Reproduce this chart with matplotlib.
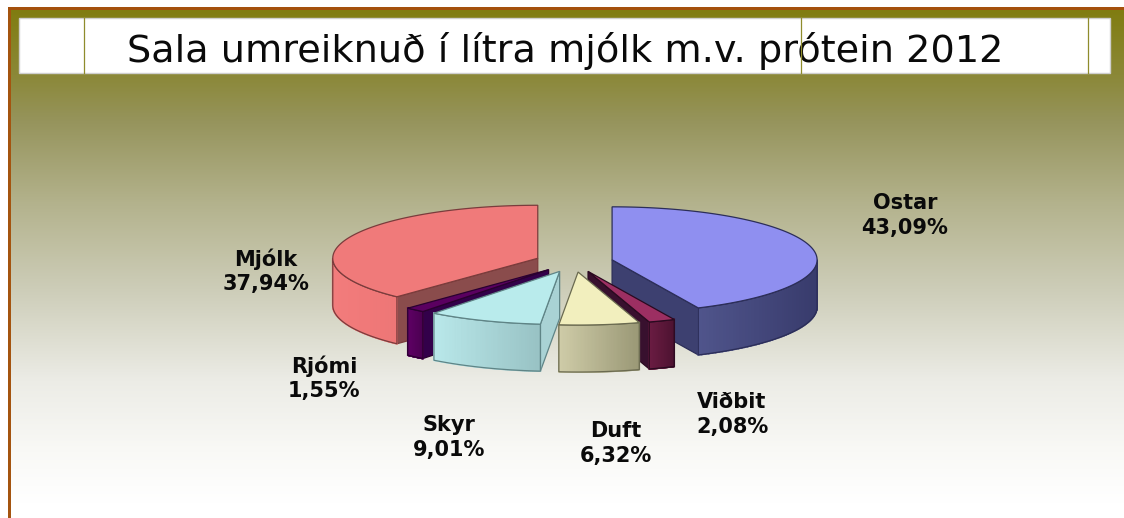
import numpy as np
import matplotlib
matplotlib.use("Agg")
import matplotlib.pyplot as plt
from matplotlib.colors import LinearSegmentedColormap, to_rgb

W, H = 1124, 518

TITLE = "Sala umreiknuð í lítra mjólk m.v. prótein 2012"

# clockwise from 12 o'clock
categories = ["Ostar", "Viðbit", "Duft", "Skyr", "Rjómi", "Mjólk"]
values = [43.09, 2.08, 6.32, 9.01, 1.55, 37.94]

top_colors = ["#8f8ff0", "#9c2f62", "#f2efbe", "#b9ebec", "#5a0060", "#f07a7a"]
cut_colors = ["#3d4070", "#38102e", "#b0ae8c", "#a9d2d4", "#33004a", "#8a4c4c"]
rim_left = ["#50558c", "#6a1c42", "#cfcca8", "#b9e8ea", "#5e0064", "#f27c7c"]
rim_right = ["#383b6c", "#4c1230", "#9a9876", "#98c2c4", "#4a0050", "#ee7676"]
edge_colors = ["#2c2e58", "#2a0a20", "#6a6a50", "#5f8486", "#2a0030", "#7a3c3c"]

label_pos = [(905, 216), (732, 415), (616, 444), (449, 438), (324, 379), (266, 272)]

CX, CY = 574, 262
RX, RY = 205, 53
EXPLODE = 39
DEPTH = 47


def pt(t, ox, oy):
    return ox + RX * np.sin(t), oy - RY * np.cos(t)


def draw_slice(ax, i, start, end):
    mid = (start + end) / 2
    ox = CX + EXPLODE * np.sin(mid)
    oy = CY - EXPLODE * np.cos(mid) * RY / RX
    edge = edge_colors[i]

    # flat cut faces, only the ones turned to the viewer
    mx, my = pt(mid, ox, oy)
    for t in (start, end):
        px, py = pt(t, ox, oy)
        nx, ny = -(py - oy), px - ox
        if nx * (mx - ox) + ny * (my - oy) > 0:
            ny = -ny
        if ny > 0:
            ax.fill([ox, px, px, ox], [oy, py, py + DEPTH, oy + DEPTH],
                    facecolor=cut_colors[i], edgecolor=edge, lw=0.9)

    # outer rim, in thin strips for the shading
    lo, hi = max(start, np.pi / 2), min(end, 3 * np.pi / 2)
    if hi > lo:
        ts = np.linspace(lo, hi, 60)
        xs, ys = pt(ts, ox, oy)
        c_l = np.array(to_rgb(rim_left[i]))
        c_r = np.array(to_rgb(rim_right[i]))
        for k in range(len(ts) - 1):
            f = (xs[k] - xs.min()) / (xs.max() - xs.min())
            col = c_l + (c_r - c_l) * f
            ax.fill([xs[k], xs[k + 1], xs[k + 1], xs[k]],
                    [ys[k], ys[k + 1], ys[k + 1] + DEPTH, ys[k] + DEPTH],
                    facecolor=col, edgecolor=col, lw=1.2)
        ax.fill(np.r_[xs, xs[::-1]], np.r_[ys, ys[::-1] + DEPTH],
                facecolor="none", edgecolor=edge, lw=0.9)

    # top face
    ts = np.linspace(start, end, 120)
    xs, ys = pt(ts, ox, oy)
    ax.fill(np.r_[ox, xs], np.r_[oy, ys], facecolor=top_colors[i], edgecolor=edge, lw=0.9)


fig = plt.figure(figsize=(W / 100, H / 100), dpi=100)
ax = fig.add_axes([0, 0, 1, 1])
ax.axis("off")

# background
grad = LinearSegmentedColormap.from_list("bg", [
    (0.0, "#807c10"), (0.13, "#8b8838"), (0.22, "#96945c"), (0.38, "#b3b28c"),
    (0.55, "#cdcdb8"), (0.73, "#ecece6"), (0.87, "#f9f9f6"), (0.97, "#ffffff"), (1.0, "#ffffff"),
], N=1024)
g = np.linspace(0, 1, 1024).reshape(-1, 1)
ax.imshow(g, cmap=grad, extent=(11, W, H, 9), aspect="auto", zorder=0)
ax.set_xlim(0, W)
ax.set_ylim(H, 0)
ax.fill([8, 11, 11, 8], [7, 7, H, H], color="#a4540f", lw=0, zorder=1)
ax.fill([8, W, W, 8], [7, 7, 9.5, 9.5], color="#a4500c", lw=0, zorder=1)

# title box
ax.fill([19, 1110, 1110, 19], [18, 18, 73, 73], facecolor="white", edgecolor="#cfcfcf", lw=1, zorder=2)
for lx in (84, 801, 1088):
    ax.plot([lx, lx], [18, 73], color="#8f8c2c", lw=0.9, zorder=4)
ax.text(565, 62, TITLE, fontsize=27.5, family="DejaVu Sans", ha="center", va="baseline",
        color="#0a0a0a", zorder=3)

# pie: back slices first
shares = np.array(values) / np.sum(values) * 2 * np.pi
ends = np.cumsum(shares)
starts = ends - shares
order = sorted(range(len(values)), key=lambda j: -np.cos((starts[j] + ends[j]) / 2))
for i in order:
    draw_slice(ax, i, starts[i], ends[i])

# labels
for name, v, (x, y) in zip(categories, values, label_pos):
    ax.text(x, y - 13, name, fontsize=15, fontweight="bold", ha="center", va="center", color="#0a0a0a")
    ax.text(x, y + 12, f"{v:.2f}%".replace(".", ","), fontsize=15, fontweight="bold",
            ha="center", va="center", color="#0a0a0a")

fig.savefig("out.png", dpi=100)
